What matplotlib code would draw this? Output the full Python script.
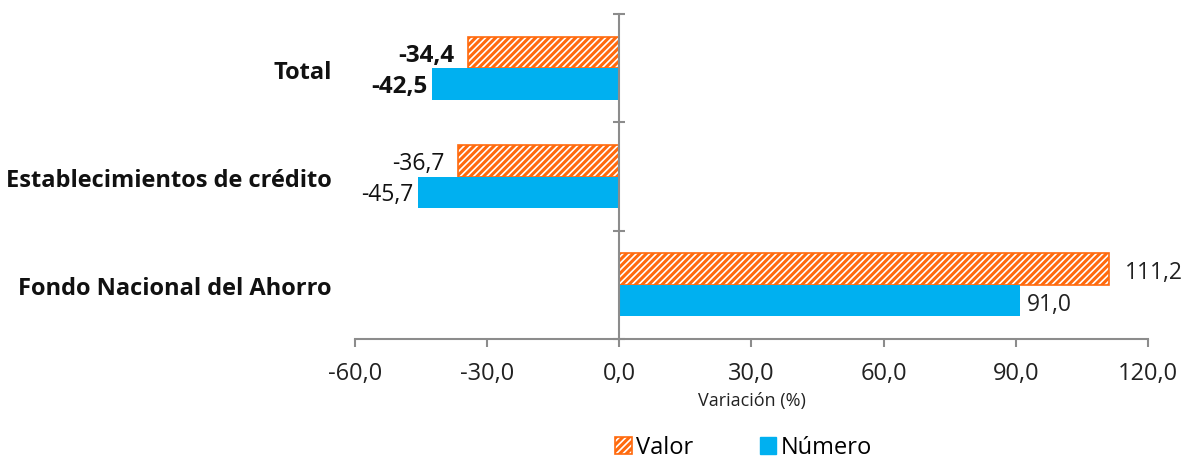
import numpy as np
import matplotlib.pyplot as plt
from matplotlib.patches import Patch

# data
categories = ['Total', 'Establecimientos de crédito', 'Fondo Nacional del Ahorro']
valor = [-34.4, -36.7, 111.2]
numero = [-42.5, -45.7, 91.0]
bold_rows = [True, False, False]

plt.rcParams['font.family'] = ['Open Sans', 'DejaVu Sans']
plt.rcParams['hatch.linewidth'] = 2.2

orange = '#FF6A0D'
blue = '#00B0F0'
grey = '#8C8C8C'

fig = plt.figure(figsize=(11.86, 4.6), dpi=100)
ax = fig.add_axes([0.2993, 0.261, 0.6686, 0.706])

y = np.arange(len(categories))
h = 0.29
ax.barh(y - h / 2, valor, height=h, color='white', edgecolor=orange,
        hatch='/////', linewidth=1.2)
ax.barh(y + h / 2, numero, height=h, color=blue, linewidth=0)

ax.set_xlim(-60, 120)
ax.set_ylim(2.5, -0.5)
ticks = np.arange(-60, 121, 30)
ax.set_xticks(ticks)
ax.set_xticklabels([f'{v:.1f}'.replace('.', ',') for v in ticks],
                   fontsize=17, color='#222222')
ax.tick_params(axis='x', direction='out', length=6, color=grey, width=1.5, pad=10)

# vertical axis at zero, ticks between categories
for s in ['top', 'right']:
    ax.spines[s].set_visible(False)
ax.spines['left'].set_position(('data', 0))
ax.spines['left'].set_color(grey)
ax.spines['left'].set_linewidth(1.5)
ax.spines['bottom'].set_color(grey)
ax.spines['bottom'].set_linewidth(1.5)
ax.set_yticks([-0.5, 0.5, 1.5, 2.5])
ax.set_yticklabels([])
ax.tick_params(axis='y', direction='inout', length=9, color=grey, width=1.5)

# category labels
for i, c in enumerate(categories):
    ax.text(-0.029, i + 0.03, c, transform=ax.get_yaxis_transform(), ha='right',
            va='center', fontsize=17, fontweight='bold', color='#111111')

# value labels
for i in range(len(categories)):
    w = 'bold' if bold_rows[i] else 'normal'
    fs = 17.5 if bold_rows[i] else 16.5
    for v, off, gap in [(valor[i], -h / 2, 3.0), (numero[i], h / 2, 1.0)]:
        txt = f'{v:.1f}'.replace('.', ',')
        if v < 0:
            ax.text(v - gap, i + off + 0.02, txt, ha='right', va='center',
                    fontsize=fs, fontweight=w, color='#111111')
        else:
            ax.text(v + gap + 0.5, i + off + 0.03, txt,
                    ha='left', va='center', fontsize=fs, fontweight=w, color='#222222')

ax.set_xlabel('Variación (%)', fontsize=13, color='#222222', labelpad=4)

handles = [Patch(facecolor='white', edgecolor=orange, hatch='/////', linewidth=1.2),
           Patch(facecolor=blue, edgecolor=blue)]
fig.legend(handles, ['Valor', 'Número'], loc='center', bbox_to_anchor=(0.627, 0.025),
           ncol=2, frameon=False, fontsize=17, handlelength=0.7, handleheight=0.7,
           handletextpad=0.2, columnspacing=2.8, borderpad=0)

fig.savefig('out.png', dpi=100)
